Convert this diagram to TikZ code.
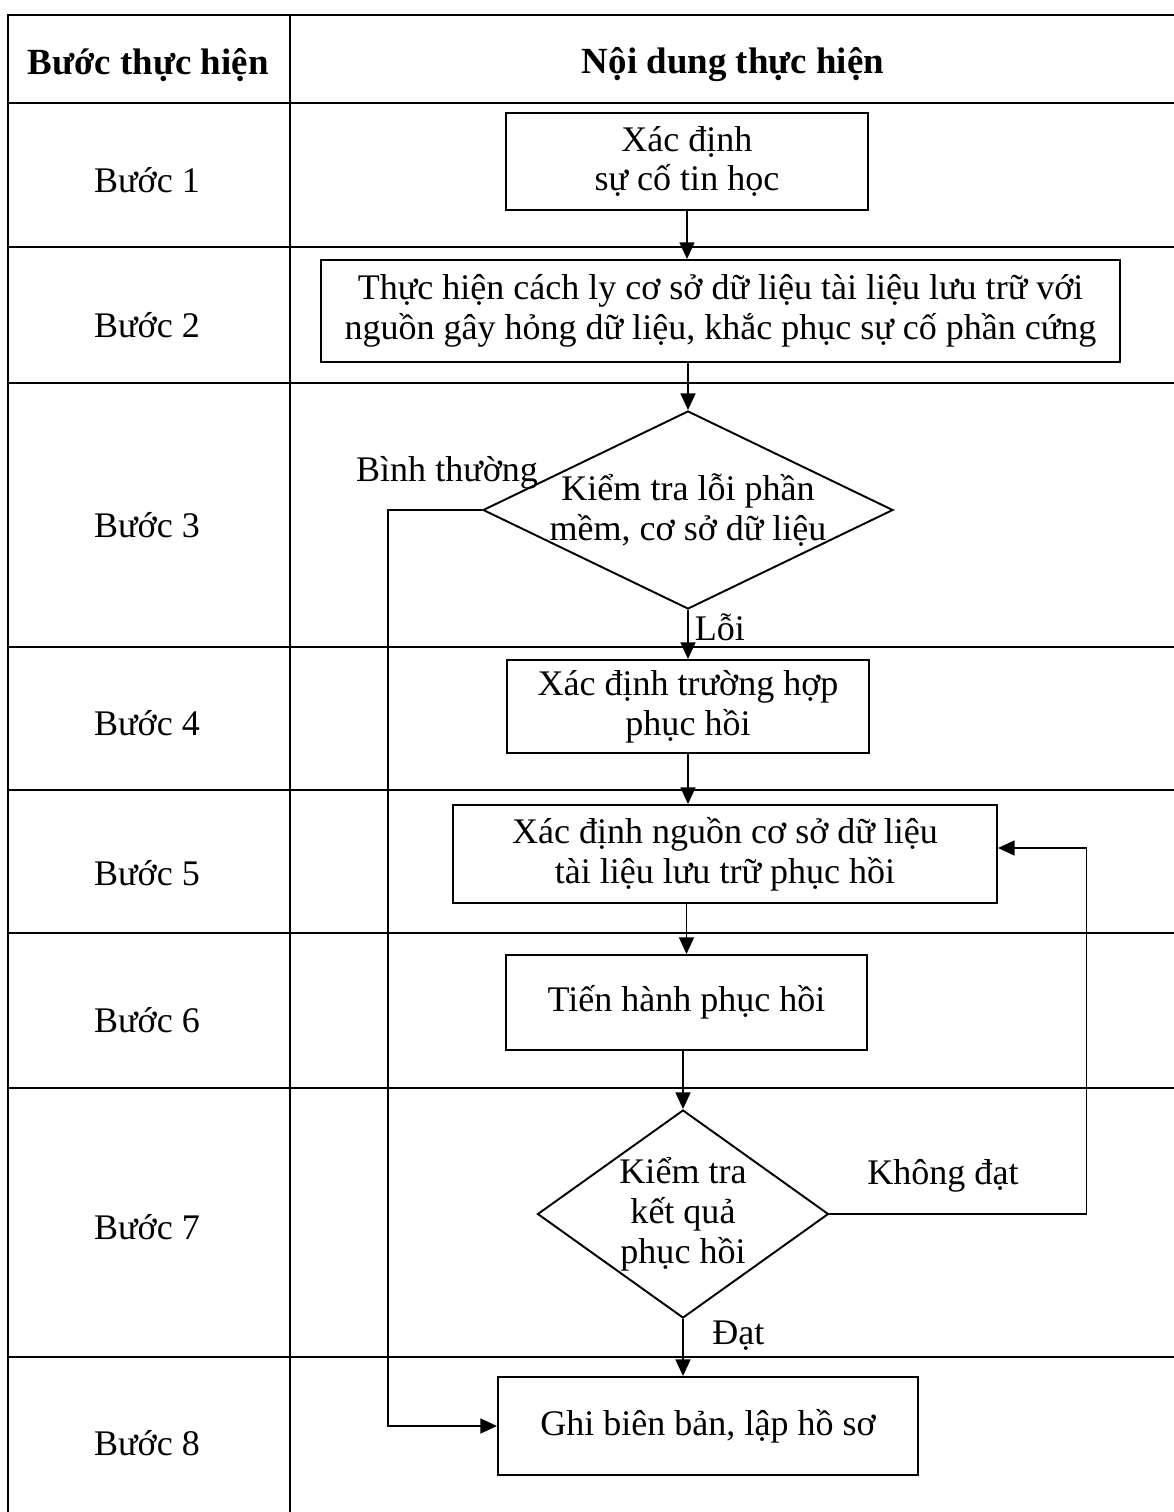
\documentclass[tikz,border=0pt]{standalone}
\usepackage{fontspec}
\setmainfont{Liberation Serif}
\usetikzlibrary{shapes.geometric, arrows.meta}
\tikzstyle{process} = [rectangle, draw, line width=1.1pt, align=center, inner sep=0pt]
\tikzstyle{decision} = [diamond, draw, line width=1.1pt, align=center, shape aspect=1.7, inner sep=-8pt]
\tikzstyle{arrow} = [line width=1.1pt, -{Triangle[length=9.5pt, width=8.5pt]}]
\tikzstyle{tableline} = [line width=0.8pt]
\tikzstyle{header} = [font=\fontsize{21}{23}\selectfont\bfseries]

\begin{document}
\begin{tikzpicture}[font=\fontsize{20.5}{22.7}\selectfont]
            \useasboundingbox (0,0) rectangle (23.48,-30.24);
            % table
            \draw [tableline] (0.16,-30.24) -- (0.16,-0.3) -- (23.48,-0.3);
            \draw [tableline] (5.8,-0.3) -- (5.8,-30.24);
            \draw [tableline] (0.16,-2.06) -- (23.48,-2.06);
            \draw [tableline] (0.16,-4.94) -- (23.48,-4.94);
            \draw [tableline] (0.16,-7.66) -- (23.48,-7.66);
            \draw [tableline] (0.16,-12.94) -- (23.48,-12.94);
            \draw [tableline] (0.16,-15.8) -- (23.48,-15.8);
            \draw [tableline] (0.16,-18.66) -- (23.48,-18.66);
            \draw [tableline] (0.16,-21.76) -- (23.48,-21.76);
            \draw [tableline] (0.16,-27.14) -- (23.48,-27.14);
            \node [header] at (2.96,-1.3) (colstep) {Bước thực hiện};
            \node [header] at (14.66,-1.3) (colcontent) {Nội dung thực hiện};
            \node at (2.94,-3.6) (step1) {Bước 1};
            \node at (2.94,-6.5) (step2) {Bước 2};
            \node at (2.94,-10.5) (step3) {Bước 3};
            \node at (2.94,-14.46) (step4) {Bước 4};
            \node at (2.94,-17.46) (step5) {Bước 5};
            \node at (2.94,-20.4) (step6) {Bước 6};
            \node at (2.94,-24.54) (step7) {Bước 7};
            \node at (2.94,-28.86) (step8) {Bước 8};
            % flowchart
            \node [process, minimum width=7.24cm, minimum height=1.94cm] at (13.74,-3.23) (identify) {Xác định\\sự cố tin học};
            \node [process, minimum width=15.98cm, minimum height=2.04cm] at (14.41,-6.22) (isolate) {Thực hiện cách ly cơ sở dữ liệu tài liệu lưu trữ với\\nguồn gây hỏng dữ liệu, khắc phục sự cố phần cứng};
            \node [decision, minimum width=8.2cm, minimum height=3.96cm] at (13.76,-10.2) (checkerror) {Kiểm tra lỗi phần\\mềm, cơ sở dữ liệu};
            \node [process, minimum width=7.24cm, minimum height=1.86cm] at (13.76,-14.13) (recovercase) {Xác định trường hợp\\phục hồi};
            \node [process, minimum width=10.88cm, minimum height=1.96cm] at (14.5,-17.08) (source) {Xác định nguồn cơ sở dữ liệu\\tài liệu lưu trữ phục hồi};
            \node [process, minimum width=7.22cm, minimum height=1.9cm] at (13.73,-20.05) (restore) {Tiến hành phục hồi};
            \node [decision, minimum width=5.82cm, minimum height=4.16cm] at (13.66,-24.28) (checkresult) {Kiểm tra\\kết quả\\phục hồi};
            \node [process, minimum width=8.4cm, minimum height=1.96cm] at (14.16,-28.52) (record) {Ghi biên bản, lập hồ sơ};
            \draw [arrow] (identify.south) -- (identify.south |- isolate.north);
            \draw [arrow] (isolate.south -| checkerror.north) -- (checkerror.north);
            \draw [arrow] (checkerror.south) -- node[anchor=west, pos=0.35] {Lỗi} (recovercase.north);
            \draw [arrow] (recovercase.south) -- (recovercase.south |- source.north);
            \draw [arrow] (source.south -| restore.north) -- (restore.north);
            \draw [arrow] (restore.south -| checkresult.north) -- (checkresult.north);
            \draw [arrow] (checkresult.south) -- node[anchor=west, pos=0.3, xshift=0.45cm] {Đạt} (checkresult.south |- record.north);
            \draw [arrow] (checkerror.west) node[anchor=south, xshift=-0.7cm, yshift=0.28cm] {Bình thường} -- ++(-1.88,0) |- (record.west);
            \draw [arrow] (checkresult.east) -- node[anchor=south, xshift=-0.3cm, yshift=0.3cm] {Không đạt} ++(5.14,0) |- ([yshift=0.12cm]source.east);
            \end{tikzpicture}
\end{document}
